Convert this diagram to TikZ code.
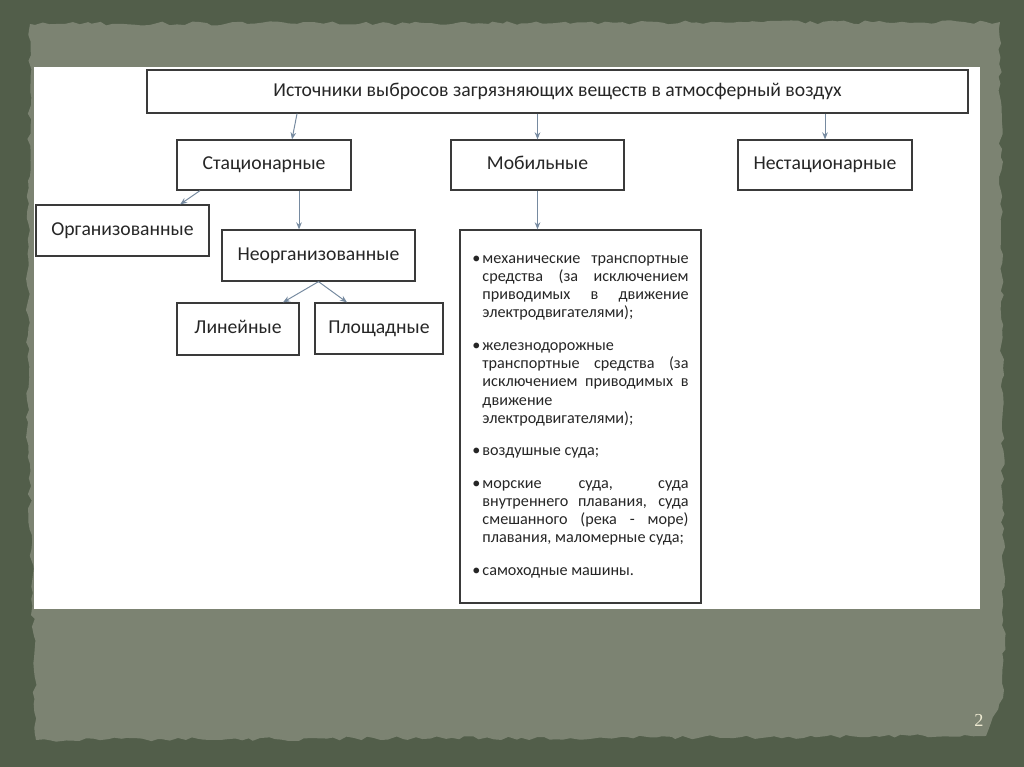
\documentclass[tikz,border=0pt]{standalone}
\usepackage{fontspec}
\setmainfont{Carlito}
\newfontfamily\numfont{Liberation Serif}
\usetikzlibrary{arrows.meta,decorations.pathmorphing}
\definecolor{frame}{RGB}{82,94,74}
\definecolor{paper}{RGB}{124,131,114}
\definecolor{boxline}{RGB}{58,58,58}
\definecolor{arrc}{RGB}{118,138,160}
\definecolor{pgnum}{RGB}{238,234,210}
\tikzset{bx/.style={draw=boxline,line width=0.9pt,fill=white,inner sep=0pt,text=black!85,text height=1.8ex,text depth=0.45ex,font=\fontsize{14}{16}\selectfont},
  ar/.style={draw=arrc,line width=0.7pt,-{Stealth[length=5pt,width=4pt]}}}
\newcommand{\srcitem}[1]{\noindent\hangindent=0.25cm\hangafter=1\makebox[0.25cm][l]{\textbullet}#1\par}

\begin{document}
\begin{tikzpicture}[x=0.025cm,y=-0.025cm]
            % \SetUpSlide
            \fill[frame] (0,0) rectangle (1024,767);
            \fill[paper,decorate,decoration={random steps,segment length=5pt,amplitude=1.5pt}]
                (30,24) -- (1000,22) -- (1004,690) -- (986,736) -- (36,740) -- (27,400) -- cycle;
            \fill[white] (34,67) rectangle (980,609);
            \node[bx,minimum width=20.525cm,minimum height=1.075cm,font=\fontsize{14}{16}\selectfont] (top) at (557.5,91.5) {Источники выбросов загрязняющих веществ в атмосферный воздух};
            \node[bx,minimum width=4.35cm,minimum height=1.25cm] (stat) at (264,165) {Стационарные};
            \node[bx,minimum width=4.325cm,minimum height=1.25cm] (mob) at (537.5,165) {Мобильные};
            \node[bx,minimum width=4.35cm,minimum height=1.25cm] (nonstat) at (825,165) {Нестационарные};
            \node[bx,minimum width=4.325cm,minimum height=1.275cm] (org) at (122.5,230.5) {Организованные};
            \node[bx,minimum width=4.825cm,minimum height=1.275cm] (neorg) at (318.5,255.5) {Неорганизованные};
            \node[bx,minimum width=3.05cm,minimum height=1.3cm] (lin) at (238,329) {Линейные};
            \node[bx,minimum width=3.2cm,minimum height=1.275cm] (plosh) at (379,328.5) {Площадные};
            \node[bx,text width=5.4cm,inner xsep=0.3125cm,minimum height=9.325cm,align=justify,text height=,text depth=,font=\fontsize{11.5}{13}\selectfont] (list) at (580.5,416.5) {%
                \srcitem{механические транспортные\linebreak средства (за исключением\linebreak приводимых в движение\linebreak электродвигателями);}\vspace{10pt}
                \srcitem{железнодорожные\newline транспортные средства (за\linebreak исключением приводимых в\linebreak движение\newline электродвигателями);}\vspace{10pt}
                \srcitem{воздушные суда;}\vspace{10pt}
                \srcitem{морские суда, суда\linebreak внутреннего плавания, суда\linebreak смешанного (река - море)\linebreak плавания, маломерные суда;}\vspace{10pt}
                \srcitem{самоходные машины.}};
            \node[text=pgnum,font=\numfont\fontsize{13}{15}\selectfont] (pg) at (979,720) {2};
            % arrows
            \draw[ar] ([xshift=-6.51cm]top.south) -- ([xshift=0.7cm]stat.north);
            \draw[ar] (top.south -| mob.north) -- (mob.north);
            \draw[ar] (top.south -| nonstat.north) -- (nonstat.north);
            \draw[ar] ([xshift=-1.6cm]stat.south) -- ([xshift=1.44cm]org.north);
            \draw[ar] ([xshift=0.875cm]stat.south) -- ([xshift=0.875cm]stat.south |- neorg.north);
            \draw[ar] (mob.south) -- (mob.south |- list.north);
            \draw[ar] (neorg.south) -- ([xshift=1.125cm]lin.north);
            \draw[ar] (neorg.south) -- ([xshift=-0.8cm]plosh.north);
\end{tikzpicture}
\end{document}
